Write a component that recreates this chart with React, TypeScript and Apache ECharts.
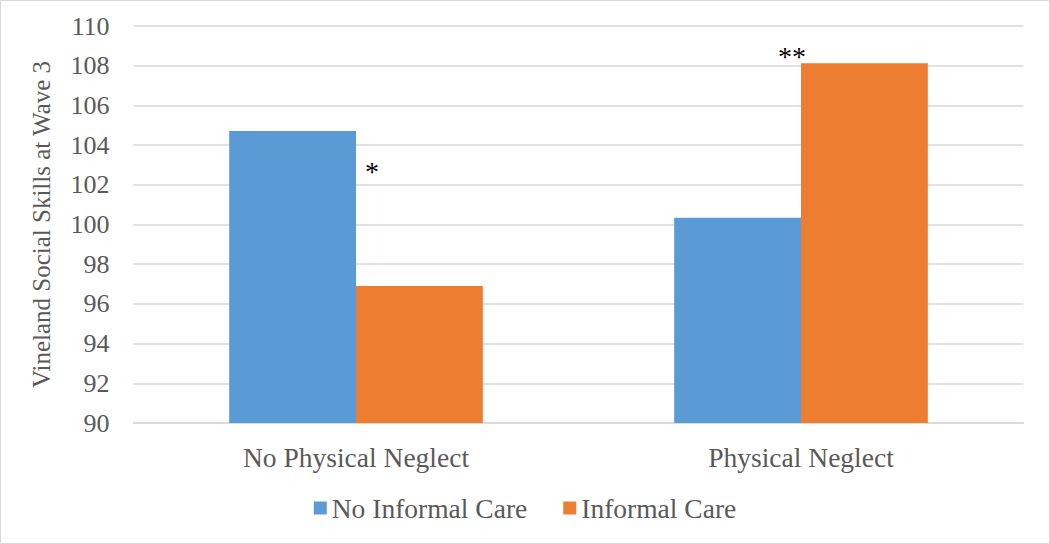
import React, { useEffect, useRef } from "react";
import * as echarts from "echarts";

const categories = ["No Physical Neglect", "Physical Neglect"];
const noInformalCare = [104.71, 100.34];
const informalCare = [96.9, 108.12];
const seriesNames = ["No Informal Care", "Informal Care"];
const yTitle = "Vineland Social Skills at Wave 3";

const FONT = "'Liberation Serif', 'Times New Roman', serif";

export default function App() {
  const ref = useRef<HTMLDivElement>(null);
  useEffect(() => {
    document.body.style.margin = "0";
    const chart = echarts.init(ref.current!, undefined, { renderer: "svg" });
    chart.setOption({
      animation: false,
      backgroundColor: "#ffffff",
      textStyle: { fontFamily: FONT },
      grid: { left: 133.5, right: 26.5, top: 26, bottom: 121, containLabel: false },
      legend: {
        data: seriesNames,
        top: 489,
        left: "center",
        icon: "rect",
        itemWidth: 13,
        itemHeight: 13,
        itemGap: 36,
        textStyle: { fontFamily: FONT, fontSize: 27.5, color: "#595959" },
      },
      xAxis: {
        type: "category",
        data: categories,
        axisTick: { show: false },
        axisLine: { lineStyle: { color: "#d9d9d9", width: 1.5 } },
        axisLabel: { fontFamily: FONT, fontSize: 27.5, color: "#595959", margin: 20 },
      },
      yAxis: {
        type: "value",
        min: 90,
        max: 110,
        interval: 2,
        name: yTitle,
        nameLocation: "middle",
        nameGap: 80,
        nameRotate: 90,
        nameTextStyle: { fontFamily: FONT, fontSize: 25, color: "#595959" },
        axisLine: { show: false },
        axisTick: { show: false },
        axisLabel: { fontFamily: FONT, fontSize: 26, color: "#595959", margin: 24 },
        splitLine: { lineStyle: { color: "#d9d9d9", width: 1.5 } },
      },
      series: [
        {
          name: seriesNames[0],
          type: "bar",
          data: noInformalCare,
          barWidth: "28.5%",
          barGap: "0%",
          itemStyle: { color: "#5b9bd5" },
        },
        {
          name: seriesNames[1],
          type: "bar",
          data: informalCare,
          barWidth: "28.5%",
          itemStyle: { color: "#ed7d31" },
        },
      ],
      graphic: [
        {
          type: "rect",
          shape: { x: 0.5, y: 0.5, width: 1049, height: 543 },
          style: { fill: "none", stroke: "#d9d9d9", lineWidth: 1 },
          silent: true,
        },
        {
          type: "text",
          x: 372,
          y: 171,
          style: { text: "*", font: `28px ${FONT}`, fill: "#000", align: "center", verticalAlign: "middle" },
        },
        {
          type: "text",
          x: 792,
          y: 56,
          style: { text: "**", font: `28px ${FONT}`, fill: "#000", align: "center", verticalAlign: "middle" },
        },
      ],
    });
    return () => chart.dispose();
  }, []);
  return <div ref={ref} style={{ width: 1050, height: 544 }} />;
}
